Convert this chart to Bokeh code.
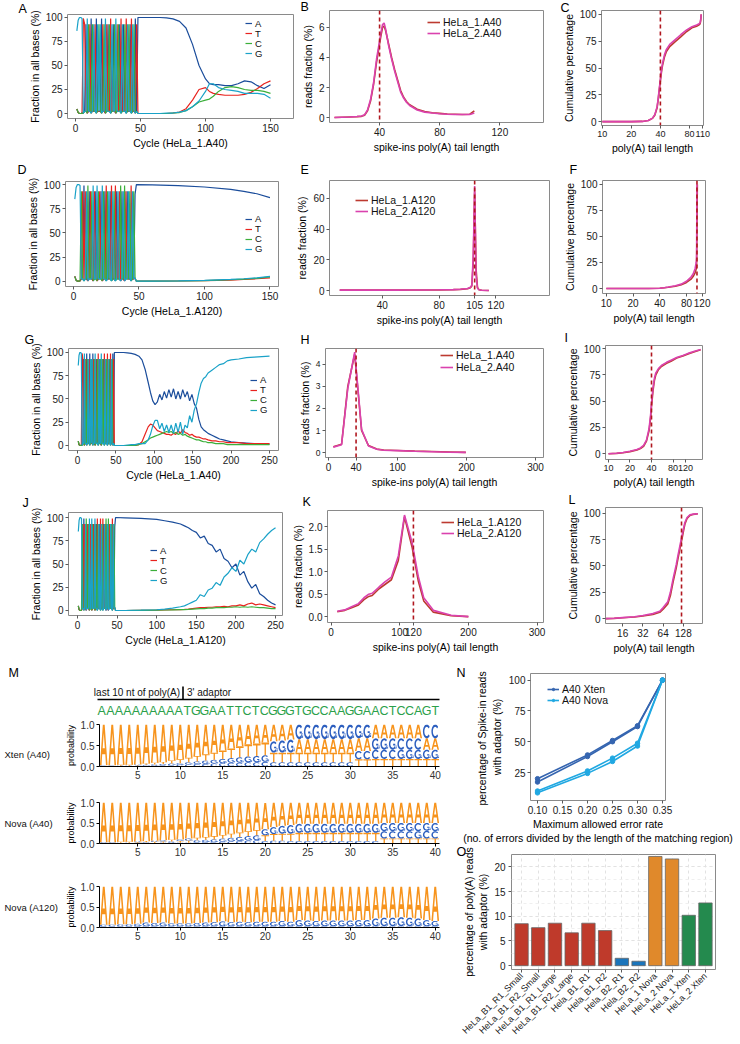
import math
import numpy as np
from bokeh.plotting import figure
from bokeh.models import (Range1d, FixedTicker, SingleIntervalTicker, Span, Legend,
                          LegendItem, NumeralTickFormatter, FactorRange)
from bokeh.layouts import row, column
from bokeh.embed import file_html
from bokeh.resources import INLINE
from bokeh.core.properties import value

FONT = "Liberation Sans"

# ======================= DATA =======================
BASES = ["A", "T", "C", "G"]

# cycles 1..47: dominant base per cycle and its fraction (%)
dom_A40 = "GGGGGTTAGCTACGTAGCGATCGTACTGACGTCATGACTGCATGCAT"
peak_A40 = [86, 97, 100, 100, 99, 99, 93, 93, 99, 93, 93, 99, 93, 93, 93, 99, 93, 93, 93, 99,
            93, 93, 99, 93, 93, 93, 99, 93, 93, 93, 99, 93, 93, 93, 99, 93, 93, 93, 99, 93,
            93, 93, 99, 93, 93, 99, 93]
dom_A120 = "GGGGGCTATGCATCGTAGCTAGCATCGATGCTAGTCAGCTAGCTGCA"
peak_A120 = [85, 97, 100, 100, 99, 93, 93, 99, 93, 93, 99, 93, 93, 93, 99, 93, 93, 99, 93, 93,
             93, 99, 93, 93, 99, 93, 93, 93, 99, 93, 93, 99, 93, 93, 93, 99, 93, 93, 99, 93,
             93, 93, 93, 99, 93, 93, 90]

# Panel A (HeLa_1.A40, 150 cycles) after cycle 47
a_cyc = [48, 55, 60, 65, 70, 75, 80, 85, 90, 95, 100, 103, 106, 110, 115, 120, 125, 130, 135, 140, 145, 150]
a_A = [100, 100, 100, 100, 99.5, 98.5, 96, 89, 72, 50, 36, 31, 30, 30, 29, 29, 31, 34, 33, 29, 26, 30]
a_T = [0, 0, 0, 0, 0, 0.5, 1.5, 5, 14, 25, 27, 23, 21, 20, 19, 19, 19, 20, 22, 26, 31, 34]
a_C = [0, 0, 0, 0, 0, 0.5, 1, 3, 7, 12, 14, 15, 18, 23, 27, 28, 27, 25, 24, 24, 23, 21]
a_G = [0, 0, 0, 0, 0.5, 0.5, 1.5, 3, 7, 13, 23, 31, 31, 27, 25, 24, 23, 21, 21, 21, 20, 16]

# Panel D (HeLa_1.A120, 150 cycles)
d_cyc = [48, 60, 80, 100, 120, 130, 140, 150]
d_A = [100, 99.7, 99, 97.5, 95, 93, 90.5, 86.5]
d_T = [0, 0, 0.2, 0.5, 1.2, 1.8, 2.5, 3.5]
d_C = [0, 0, 0.2, 0.6, 1.5, 2.2, 3.0, 4.5]
d_G = [0, 0, 0.3, 0.8, 1.8, 2.5, 3.5, 5]

# Panel G (HeLa_1.A40, 250 cycles)
g_cyc = [48, 55, 60, 65, 70, 75, 80, 84, 88, 92, 95, 98, 101, 104, 107, 110, 113, 116, 119, 122,
         125, 128, 131, 134, 137, 140, 143, 146, 149, 152, 155, 158, 161, 164, 167, 170, 175, 180,
         185, 190, 195, 200, 210, 220, 230, 240, 250]
g_A = [100, 100, 100, 99.5, 99, 98, 96, 92, 82, 68, 57, 48, 44, 47, 55, 49, 58, 51, 60, 52,
       61, 50, 58, 50, 60, 52, 58, 48, 55, 45, 40, 28, 20, 17, 15, 13, 11, 9, 7, 6, 5, 4, 3, 2.5, 2, 1.5, 1.5]
g_T = [0, 0, 0, 0, 0, 0, 1, 4, 12, 20, 23, 22, 19, 16, 15, 14, 13, 12, 12, 11,
       13, 12, 16, 13, 17, 14, 13, 11, 12, 10, 9, 9, 8, 7, 7, 6, 5, 5, 4, 4, 3, 3, 3, 2, 2, 2, 2]
g_C = [0, 0, 0, 0, 0, 0, 1, 2, 4, 6, 8, 9, 10, 11, 12, 13, 14, 15, 14, 15,
       13, 14, 12, 13, 11, 12, 10, 9, 8, 7, 6, 6, 5, 4, 4, 3, 3, 2, 2, 2, 1, 1, 1, 1, 1, 1, 1]
g_G = [0, 0, 0, 0.5, 1, 1, 2, 2, 2, 6, 12, 21, 27, 27, 18, 24, 15, 22, 14, 22,
       13, 24, 14, 25, 12, 22, 19, 32, 25, 38, 45, 57, 67, 72, 74, 78, 81, 84, 87, 88, 91, 92, 93, 94.5, 95, 95.5, 96]

# Panel J (HeLa_1.A120, 250 cycles)
j_cyc = [48, 60, 80, 100, 110, 120, 130, 135, 140, 145, 150, 155, 160, 165, 170, 175, 180, 185, 190, 195,
         200, 205, 210, 215, 220, 225, 230, 235, 240, 245, 250]
j_A = [100, 99.7, 99, 98, 96.5, 95, 93, 91, 89, 86, 84, 78, 80, 72, 70, 63, 66, 56, 53, 46,
       50, 38, 42, 31, 24, 28, 18, 15, 11, 8, 6]
j_T = [0, 0, 0.2, 0.4, 0.6, 0.8, 1, 1.2, 1.5, 2, 2.5, 3, 3, 3.5, 3.5, 4, 4, 4.5, 4, 5,
       5, 6, 5, 7, 8, 6, 7, 6, 5, 4, 3]
j_C = [0, 0, 0.2, 0.4, 0.5, 0.7, 1, 1, 1.2, 1.5, 1.8, 2, 2, 2.5, 2.5, 3, 3, 3, 3.5, 3.5,
       4, 3.5, 4, 3.5, 4, 3.5, 3, 3, 2.5, 2, 2]
j_G = [0, 0, 0.3, 0.8, 1.5, 2.5, 4, 5, 7, 9, 11, 17, 15, 22, 24, 30, 27, 36, 40, 46,
       42, 54, 50, 60, 66, 63, 73, 77, 82, 86, 89]

# Spike-in read fractions / cumulative percentages
b_len = [10, 15, 20, 25, 28, 30, 32, 34, 36, 38, 40, 41, 42, 43, 44, 46, 48, 50, 52, 54,
         56, 58, 60, 65, 70, 75, 80, 85, 90, 95, 100, 103]
b_rep1 = [0, 0.02, 0.04, 0.06, 0.08, 0.15, 0.45, 1.1, 2.2, 3.7, 4.9, 5.5, 6.0, 6.1, 5.8, 4.9, 4.0, 3.2, 2.5, 1.8,
          1.35, 1.05, 0.85, 0.55, 0.4, 0.32, 0.28, 0.24, 0.22, 0.2, 0.22, 0.45]
b_rep2 = [0, 0.02, 0.04, 0.07, 0.1, 0.18, 0.5, 1.2, 2.3, 3.9, 5.1, 5.7, 6.2, 6.3, 5.9, 4.8, 3.9, 3.1, 2.4, 1.7,
          1.3, 1.0, 0.8, 0.5, 0.36, 0.3, 0.25, 0.22, 0.2, 0.2, 0.2, 0.3]
b_target = 40

c_len = [10, 15, 20, 26, 30, 33, 35, 37, 38, 39, 40, 41, 42, 44, 46, 50, 57, 65, 75, 85, 95, 100, 103, 104, 105, 106]
c_rep1 = [0, 0, 0, 0.2, 1, 3, 6, 13, 21, 30, 38, 46, 52, 60, 65, 70, 74.5, 79, 84, 87.5, 89, 90, 91, 92.5, 95, 100]
c_rep2 = [0, 0, 0, 0.2, 1, 3, 6.5, 14, 22, 31, 40, 48, 54, 62, 67, 72, 76.5, 81, 85.5, 88.5, 90, 91, 92, 93.5, 96, 100]
c_target = 40

e_len = [10, 20, 30, 40, 50, 60, 70, 80, 90, 95, 100, 102, 103, 104, 105, 106, 107, 108, 110, 115]
e_rep1 = [0.3, 0.3, 0.3, 0.3, 0.3, 0.35, 0.4, 0.45, 0.6, 0.8, 1.2, 1.8, 3, 18, 64, 14, 2, 0.6, 0.2, 0.05]
e_rep2 = [0.3, 0.3, 0.3, 0.3, 0.3, 0.35, 0.4, 0.5, 0.65, 0.9, 1.4, 2.2, 3.5, 22, 68, 10, 1.5, 0.5, 0.2, 0.05]
e_target = 105

f_len = [10, 20, 30, 40, 45, 50, 60, 70, 80, 90, 95, 100, 103, 104, 105, 106]
f_rep1 = [0, 0, 0, 0.3, 0.7, 1.2, 2.2, 3.6, 5.8, 9, 11.5, 15, 19, 22, 60, 100]
f_rep2 = [0, 0, 0, 0.3, 0.8, 1.4, 2.6, 4.2, 7, 11, 14, 19, 25, 30, 100, 100]
f_target = 105

h_len = [7, 19, 28, 38, 48, 58, 70, 80, 100, 125, 150, 175, 199]
h_rep1 = [0.27, 0.38, 3.0, 4.45, 1.0, 0.32, 0.16, 0.12, 0.1, 0.07, 0.05, 0.03, 0.01]
h_rep2 = [0.25, 0.36, 2.9, 4.55, 1.05, 0.3, 0.15, 0.11, 0.09, 0.06, 0.04, 0.02, 0.01]
h_target = 40

i_len = [10, 13, 16, 20, 25, 28, 31, 34, 37, 39, 40, 42, 44, 46, 50, 55, 65, 75, 90, 110, 130, 160, 195]
i_rep1 = [0, 0.3, 1, 2, 3.5, 5, 7, 12, 22, 35, 45, 60, 70, 75, 80, 83, 86, 88, 91, 93, 95, 97, 99]
i_rep2 = [0, 0.4, 1.2, 2.3, 4, 5.5, 8, 13, 24, 38, 48, 63, 72, 77, 81, 84, 87, 89, 91.5, 93.5, 95.5, 97.5, 99.2]
i_target = 40

k_len = [9, 20, 30, 40, 48, 55, 60, 70, 79, 88, 98, 107, 118, 127, 135, 149, 175, 200]
k_rep1 = [0.11, 0.14, 0.2, 0.26, 0.38, 0.45, 0.47, 0.62, 0.72, 0.82, 1.25, 2.22, 1.55, 0.8, 0.35, 0.1, 0.02, 0.0]
k_rep2 = [0.12, 0.15, 0.22, 0.29, 0.42, 0.5, 0.52, 0.66, 0.78, 0.88, 1.35, 2.26, 1.65, 0.9, 0.42, 0.14, 0.03, 0.0]
k_target = 120

l_len = [9, 12, 16, 24, 32, 45, 57, 64, 75, 82, 90, 100, 107, 115, 123, 130, 135, 145, 160, 180, 210]
l_rep1 = [0, 0.3, 0.8, 1.5, 2.5, 4, 6, 9, 14, 22, 35, 48, 58, 68, 77, 85, 90, 95, 98, 99, 99.5]
l_rep2 = [0, 0.4, 1.0, 1.8, 3, 4.8, 7, 10.5, 16, 25, 38, 51, 61, 71, 80, 87, 91.5, 96, 98.5, 99.2, 99.6]
l_target = 120

# Sequence logos (probability per position 1..40)
logo_pos = list(range(1, 41))
adaptor_seq = "AAAAAAAAAATGGAATTCTCGGGTGCCAAGGAACTCCAGT"
logo_rows = ["Xten (A40)", "Nova (A40)", "Nova (A120)"]
xten_A = [.97, .97, .96, .96, .95, .93, .91, .89, .86, .83, .79, .75, .71, .67, .62, .57, .52, .47, .45, .43,
          .40, .38, .36, .32, .32, .32, .32, .32, .32, .32, .30, .30, .33, .33, .33, .33, .33, .33, .27, .27]
xten_T = [.01, .01, .02, .02, .02, .03, .04, .05, .07, .09, .11, .13, .15, .17, .20, .23, .26, .29, .30, .30,
          .23, .23, .23, .23, .23, .23, .23, .23, .23, .23, .17, .17, .18, .18, .18, .18, .18, .18, .18, .18]
xten_G = [.01, .01, .01, .01, .02, .02, .03, .03, .04, .04, .05, .06, .08, .09, .10, .11, .13, .14, .15, .16,
          .27, .29, .31, .35, .35, .35, .35, .35, .35, .35, .33, .33, .27, .27, .27, .22, .22, .22, .22, .22]
xten_C = [.01, .01, .01, .01, .01, .02, .02, .03, .03, .04, .05, .06, .06, .07, .08, .09, .09, .10, .10, .11,
          .10, .10, .10, .10, .10, .10, .10, .10, .10, .10, .20, .20, .22, .22, .22, .27, .27, .27, .33, .33]

nova40_A = [.97, .97, .96, .96, .95, .94, .93, .92, .91, .90, .88, .86, .84, .82, .79, .76, .73, .70, .67, .64,
            .60, .57, .55, .52, .52, .52, .52, .52, .52, .52, .52, .52, .52, .50, .50, .50, .50, .50, .50, .50]
nova40_T = [.01, .01, .02, .02, .02, .03, .03, .03, .04, .04, .05, .06, .07, .08, .09, .10, .11, .12, .13, .14,
            .16, .17, .18, .20, .20, .20, .20, .20, .20, .20, .20, .20, .20, .12, .12, .12, .12, .12, .12, .12]
nova40_G = [.01, .01, .01, .01, .02, .02, .03, .03, .03, .04, .05, .05, .06, .07, .08, .09, .10, .11, .12, .15,
            .17, .19, .21, .22, .22, .22, .22, .22, .22, .22, .22, .22, .22, .20, .20, .20, .20, .18, .19, .20]
nova40_C = [.01, .01, .01, .01, .01, .01, .01, .02, .02, .02, .02, .03, .03, .03, .04, .05, .06, .07, .08, .06,
            .07, .07, .06, .06, .06, .06, .06, .06, .06, .06, .06, .06, .06, .18, .18, .18, .18, .20, .19, .18]

nova120_A = [.93, .93, .92, .92, .91, .88, .89, .88, .90, .90, .90, .89, .88, .87, .85, .87, .86, .87, .86, .86,
             .86, .84, .86, .82, .83, .84, .83, .83, .83, .83, .82, .82, .78, .76, .76, .75, .76, .78, .82, .84]
nova120_G = [.04, .04, .05, .05, .06, .09, .08, .09, .07, .07, .07, .08, .09, .10, .12, .10, .11, .10, .11, .11,
             .11, .13, .11, .15, .14, .13, .14, .14, .14, .14, .15, .15, .19, .21, .21, .22, .21, .19, .15, .13]
nova120_C = [.02, .02, .02, .02, .02, .02, .02, .02, .02, .02, .02, .02, .02, .02, .02, .02, .02, .02, .02, .02,
             .02, .02, .02, .02, .02, .02, .02, .02, .02, .02, .02, .02, .02, .02, .02, .02, .02, .02, .02, .02]
nova120_T = [.01, .01, .01, .01, .01, .01, .01, .01, .01, .01, .01, .01, .01, .01, .01, .01, .01, .01, .01, .01,
             .01, .01, .01, .01, .01, .01, .01, .01, .01, .01, .01, .01, .01, .01, .01, .01, .01, .01, .01, .01]

# Panel N
n_err = [0.10, 0.20, 0.25, 0.30, 0.35]
n_ticks = [0.10, 0.15, 0.20, 0.25, 0.30, 0.35]
n_xten_r1 = [17.3, 38.0, 50.0, 62.3, 100]
n_xten_r2 = [20.0, 39.3, 51.0, 63.0, 100]
n_nova_r1 = [8.5, 24.3, 34.0, 46.5, 100]
n_nova_r2 = [10.0, 26.3, 36.7, 48.8, 100]

# Panel O
o_names = ["HeLa_B1_R1_Small", "HeLa_B1_R2_Small", "HeLa_B1_R1_Large", "HeLa_B1_R2_Large",
           "Hela_B1_R1", "Hela_B1_R2", "Hela_B2_R1", "Hela_B2_R2",
           "HeLa_1 Nova", "HeLa_2 Nova", "HeLa_1 Xten", "HeLa_2 Xten"]
o_vals = [8.5, 7.7, 8.6, 6.65, 8.6, 7.1, 1.5, 0.9, 22.1, 21.6, 10.2, 12.7]
o_group = ["B1", "B1", "B1", "B1", "B1", "B1", "B2", "B2", "Nova", "Nova", "Xten", "Xten"]

# ======================= STYLE =======================
BASE_COL = {"A": "#1B4D9B", "T": "#E8231E", "C": "#3BAF3A", "G": "#1AA2C8"}
REP_COL = ["#BD3A30", "#DA42AE"]
DASH_COL = "#B0171F"
LOGO_COL = {"A": "#F7941D", "T": "#F7941D", "G": "#2D5FBF", "C": "#2D5FBF"}
O_COL = {"B1": "#BF3A2B", "B2": "#1B75BB", "Nova": "#E0892B", "Xten": "#248A4E"}
N_COL = ["#3565B0", "#20A8E2"]


def style_axis(ax, tick_size="10px", label_size="10.5px", line_color=None, tick_color="#5a5a5a"):
    ax.axis_line_color = line_color
    ax.major_tick_line_color = tick_color
    ax.major_tick_out = 3
    ax.major_tick_in = 0
    ax.minor_tick_line_color = None
    ax.major_label_text_font = FONT
    ax.major_label_text_font_size = tick_size
    ax.major_label_text_color = "#1a1a1a"
    ax.axis_label_text_font = FONT
    ax.axis_label_text_font_size = label_size
    ax.axis_label_text_font_style = "normal"
    ax.axis_label_text_color = "#000000"
    ax.major_label_standoff = 2
    ax.axis_label_standoff = 2


def set_letter(p, txt, dx, standoff):
    """Panel letter as the plot title, shifted left of the frame."""
    p.title.text = txt
    p.title.align = "left"
    p.title.offset = dx
    p.title.text_font = FONT
    p.title.text_font_size = "12.5px"
    p.title.text_font_style = "normal"
    p.title.text_color = "#000000"
    try:
        p.title.standoff = standoff
    except Exception:
        p.title.standoff = 0


def make_fig(w, h, borders, xr, yr, xlog=False, xticks=None, yticks=None,
             xlabel=None, ylabel=None, xfmt=None, yfmt=None):
    l, r, t, b = borders
    p = figure(width=w, height=h, x_range=Range1d(*xr), y_range=Range1d(*yr),
               x_axis_type=("log" if xlog else "linear"),
               output_backend="svg", toolbar_location=None,
               min_border_left=l, min_border_right=r, min_border_top=t, min_border_bottom=b)
    p.outline_line_color = "#8a8a8a"
    p.outline_line_width = 1
    p.grid.visible = False
    for ax in list(p.xaxis) + list(p.yaxis):
        style_axis(ax)
    if xticks is not None:
        p.xaxis.ticker = FixedTicker(ticks=xticks)
    if yticks is not None:
        p.yaxis.ticker = FixedTicker(ticks=yticks)
    if xfmt:
        p.xaxis.formatter = NumeralTickFormatter(format=xfmt)
    if yfmt:
        p.yaxis.formatter = NumeralTickFormatter(format=yfmt)
    if xlabel:
        p.xaxis.axis_label = xlabel
    if ylabel:
        p.yaxis.axis_label = ylabel
    return p


def add_stack_legend(p, items, vx, vys, font="10.5px", gw=8):
    """One single-entry legend per item, so the row pitch can follow the reference."""
    for it, vy in zip(items, vys):
        p.add_layout(Legend(items=[it], location=(vx, vy), orientation="vertical",
                            label_text_font=FONT, label_text_font_size=font, label_text_color="#111111",
                            glyph_width=gw, glyph_height=6, label_height=6, label_standoff=3,
                            spacing=0, padding=0, margin=0,
                            border_line_color=None, background_fill_alpha=0))


def cycle_fig(w, h, borders, xr, yr, xticks, xlabel, dom, peaks, cyc2, s2, leg_x, leg_ys, letter):
    p = make_fig(w, h, borders, xr, yr, xticks=xticks, yticks=[0, 25, 50, 75, 100],
                 xlabel=xlabel, ylabel="Fraction in all bases (%)")
    cyc1 = list(range(1, len(dom) + 1))
    items = []
    for bs in BASES:
        y1 = [pk if d == bs else (100 - pk) / 3 for d, pk in zip(dom, peaks)]
        r = p.line(cyc1 + cyc2, y1 + s2[bs], line_color=BASE_COL[bs], line_width=1.2)
        items.append(LegendItem(label=bs, renderers=[r]))
    add_stack_legend(p, items, leg_x, leg_ys, font="9.5px", gw=7)
    set_letter(p, *letter)
    return p


def spike_fig(w, h, borders, xr, yr, xticks, yticks, x, y1, y2, target, labels, leg_x, leg_ys, letter,
              yfmt=None, ytick_size="10px"):
    p = make_fig(w, h, borders, xr, yr, xticks=xticks, yticks=yticks,
                 xlabel="spike-ins poly(A) tail length", ylabel="reads fraction (%)", yfmt=yfmt)
    p.yaxis.major_label_text_font_size = ytick_size
    r1 = p.line(x, y1, line_color=REP_COL[0], line_width=1.6)
    r2 = p.line(x, y2, line_color=REP_COL[1], line_width=1.6)
    p.add_layout(Span(location=target, dimension="height", line_color=DASH_COL,
                      line_dash="4 3", line_width=1.6))
    add_stack_legend(p, [LegendItem(label=labels[0], renderers=[r1]),
                         LegendItem(label=labels[1], renderers=[r2])], leg_x, leg_ys, font="10.5px", gw=13)
    set_letter(p, *letter)
    return p


def cum_fig(w, h, borders, xr, yr, xticks, x, y1, y2, target, letter, xtick_size="10px"):
    p = make_fig(w, h, borders, xr, yr, xlog=True, xticks=xticks, yticks=[0, 25, 50, 75, 100],
                 xlabel="poly(A) tail length", ylabel="Cumulative percentage", xfmt="0")
    p.xaxis.major_label_text_font_size = xtick_size
    p.line(x, y1, line_color=REP_COL[0], line_width=1.6)
    p.line(x, y2, line_color=REP_COL[1], line_width=1.6)
    p.add_layout(Span(location=target, dimension="height", line_color=DASH_COL,
                      line_dash="4 3", line_width=1.6))
    set_letter(p, *letter)
    return p


# ---------------- rows 1-4 ----------------
pA = cycle_fig(296, 156, (67, 3, 14, 38), (-6.2, 167.7), (-5.2, 103.1), [0, 50, 100, 150],
               "Cycle (HeLa_1.A40)", dom_A40, peak_A40, a_cyc,
               {"A": a_A, "T": a_T, "C": a_C, "G": a_G}, 178, [89.5, 79.5, 69.5, 59.5], ("A", -49, -2.4))
pB = spike_fig(260, 156, (33, 13, 10, 34), (6.7, 149), (-0.33, 7.13), [40, 80, 120], [0, 2, 4, 6],
               b_len, b_rep1, b_rep2, b_target, ["HeLa_1.A40", "HeLa_2.A40"], 98, [94, 83], ("B", -29, -6.4))
pC = cum_fig(184, 156, (45, 37, 10, 30), (9.8, 112), (-3.6, 103.6), [10, 20, 40, 80, 110],
             c_len, c_rep1, c_rep2, c_target, ("C", -41, -8.3), xtick_size="9px")

pD = cycle_fig(290, 172, (65, 12, 25, 42), (-6.1, 156.5), (-5.5, 103.2), [0, 50, 100, 150],
               "Cycle (HeLa_1.A120)", dom_A120, peak_A120, d_cyc,
               {"A": d_A, "T": d_T, "C": d_C, "G": d_G}, 180, [62, 52, 42, 32], ("D", -48, 8.6))
pE = spike_fig(270, 172, (39, 11, 24, 32), (2.8, 157.7), (-3.2, 71.6), [40, 80, 105, 120], [0, 20, 40, 60],
               e_len, e_rep1, e_rep2, e_target, ["HeLa_1.A120", "HeLa_2.A120"], 26, [89.5, 78], ("E", -29, 7.6))
pF = cum_fig(180, 172, (38, 35, 24, 35), (9.06, 131), (-4.8, 103.8), [10, 20, 40, 80, 120],
             f_len, f_rep1, f_rep2, f_target, ("F", -33, 7.6))

pG = cycle_fig(288, 162, (68, 10, 20, 40), (-11.7, 261.7), (-5.4, 104.3), [0, 50, 100, 150, 200, 250],
               "Cycle (HeLa_1.A40)", dom_A40, peak_A40, g_cyc,
               {"A": g_A, "T": g_T, "C": g_C, "G": g_G}, 182, [65, 55, 45, 35], ("G", -44, 3.6))
pH = spike_fig(272, 162, (37, 17, 20, 31), (-4.3, 311.6), (-0.22, 4.71), [0, 40, 100, 200, 300], [0, 1, 2, 3, 4],
               h_len, h_rep1, h_rep2, h_target, ["HeLa_1.A40", "HeLa_2.A40"], 115, [96, 84.5], ("H", -25, 3.6),
               ytick_size="8.5px")
pI = cum_fig(180, 162, (45, 38, 17, 31), (9.08, 207), (-5.5, 103), [10, 20, 40, 80, 120],
             i_len, i_rep1, i_rep2, i_target, ("I", -41, 0.6), xtick_size="9px")

pJ = cycle_fig(288, 166, (68, 6, 22, 41), (-11.4, 258.8), (-5.4, 105.4), [0, 50, 100, 150, 200, 250],
               "Cycle (HeLa_1.A120)", dom_A120, peak_A120, j_cyc,
               {"A": j_A, "T": j_T, "C": j_C, "G": j_G}, 82, [59.5, 49.5, 39.5, 29.5], ("J", -46, 5.6))
pK = spike_fig(272, 166, (38, 17, 20, 34), (-5.1, 309.4), (-0.13, 2.36), [0, 100, 120, 200, 300],
               [0, 0.5, 1.0, 1.5, 2.0], k_len, k_rep1, k_rep2, k_target, ["HeLa_1.A120", "HeLa_2.A120"],
               114, [94.5, 83], ("K", -25, 3.6), yfmt="0.0")
pL = cum_fig(180, 166, (45, 38, 17, 30), (8.9, 246), (-4.6, 105.5), [16, 32, 64, 128],
             l_len, l_rep1, l_rep2, l_target, ("L", -37, 0.6))

# ---------------- M: sequence logos ----------------
A_SHAPE = [[([0, 0.38, 0.62, 1, 0.79, 0.70, 0.30, 0.21], [0, 1, 1, 0, 0, 0.27, 0.27, 0]),
            ([0.36, 0.5, 0.64], [0.42, 0.79, 0.42])]]
T_SHAPE = [[([0, 1, 1, 0.59, 0.59, 0.41, 0.41, 0], [1, 1, 0.84, 0.84, 0, 0, 0.84, 0.84])]]


def ring(a0, a1, n=28):
    t = np.radians(np.linspace(a0, a1, n))
    xo = 0.5 + 0.5 * np.cos(t)
    yo = 0.5 + 0.5 * np.sin(t)
    xi = 0.5 + 0.31 * np.cos(t[::-1])
    yi = 0.5 + 0.33 * np.sin(t[::-1])
    return (list(xo) + list(xi), list(yo) + list(yi))


C_SHAPE = [[ring(40, 320)]]
G_SHAPE = [[ring(45, 340)],
           [([0.55, 1.0, 1.0, 0.55], [0.38, 0.38, 0.52, 0.52])],
           [([0.83, 1.0, 1.0, 0.83], [0.10, 0.10, 0.52, 0.52])]]
SHAPES = {"A": A_SHAPE, "T": T_SHAPE, "C": C_SHAPE, "G": G_SHAPE}

MW = 455            # M column width
LABW = 62           # strip holding the row labels
LW, LL, LR = MW - LABW, 35, 16   # logo figure width and borders (frame at x=97..439)
SLOT = (LW - LL - LR) / 40.0


def logo_fig(h, t, b, probs):
    p = figure(width=LW, height=h, x_range=Range1d(0.5, 40.5), y_range=Range1d(0, 1.0),
               output_backend="svg", toolbar_location=None,
               min_border_left=LL, min_border_right=LR, min_border_top=t, min_border_bottom=b)
    p.outline_line_color = None
    p.grid.visible = False
    for ax in list(p.xaxis) + list(p.yaxis):
        style_axis(ax, tick_size="10px", label_size="9px", line_color="#000000", tick_color="#000000")
        ax.major_label_text_color = "#333333"
    p.xaxis.ticker = FixedTicker(ticks=[5, 10, 15, 20, 25, 30, 35, 40])
    p.yaxis.ticker = FixedTicker(ticks=[0, 0.5, 1.0])
    p.yaxis.formatter = NumeralTickFormatter(format="0.0")
    p.yaxis.axis_label = "probability"
    p.xaxis.major_label_standoff = 1
    xs, ys, cols = [], [], []
    for i, pos in enumerate(logo_pos):
        stack = sorted(((probs[bs][i], bs) for bs in BASES), key=lambda z: z[0])
        cum = 0.0
        for v, bs in stack:
            if v <= 0:
                continue
            x0, x1 = pos - 0.45, pos + 0.45
            y0, y1 = cum, cum + v
            xs.append([[[x0 + (x1 - x0) * u for u in rx] for (rx, ry) in poly] for poly in SHAPES[bs]])
            ys.append([[[y0 + (y1 - y0) * u for u in ry] for (rx, ry) in poly] for poly in SHAPES[bs]])
            cols.append(LOGO_COL[bs])
            cum = y1
    p.multi_polygons(xs=xs, ys=ys, fill_color=cols, line_color=None)
    return p


# header: frame covers the whole canvas, x in logo-position units
hx0 = 0.5 - (LABW + LL) / SLOT
hx1 = 0.5 + (MW - LABW - LL) / SLOT
pMh = figure(width=MW, height=60, x_range=Range1d(hx0, hx1), y_range=Range1d(0, 60),
             output_backend="svg", toolbar_location=None, x_axis_location=None, y_axis_location=None,
             min_border_left=0, min_border_right=0, min_border_top=0, min_border_bottom=0)
pMh.outline_line_color = None
pMh.grid.visible = False
pMh.segment(x0=[logo_pos[0] - 0.5], y0=[17], x1=[logo_pos[-1] + 0.5], y1=[17], line_color="#000000", line_width=1.4)
pMh.segment(x0=[10.5], y0=[17], x1=[10.5], y1=[30], line_color="#000000", line_width=1.6)
pMh.text(x=[10.5], y=[24], text=["last 10 nt of poly(A)"], text_align="right", text_baseline="middle",
         x_offset=-3, text_font=value(FONT), text_font_size="10px", text_color="#111111")
pMh.text(x=[10.5], y=[24], text=["3' adaptor"], text_align="left", text_baseline="middle",
         x_offset=4, text_font=value(FONT), text_font_size="10px", text_color="#111111")
pMh.text(x=logo_pos, y=[6] * len(logo_pos), text=list(adaptor_seq), text_align="center",
         text_baseline="middle", text_font=value(FONT), text_font_size="12.5px", text_color="#2BA04A")
pMh.text(x=[hx0], y=[44], text=["M"], text_align="left", text_baseline="middle", x_offset=8,
         text_font=value(FONT), text_font_size="12.5px", text_color="#000000")

logo_h = [(66, 8, 16), (77, 20, 16), (86, 27, 18)]
pM1 = logo_fig(*logo_h[0], {"A": xten_A, "T": xten_T, "G": xten_G, "C": xten_C})
pM2 = logo_fig(*logo_h[1], {"A": nova40_A, "T": nova40_T, "G": nova40_G, "C": nova40_C})
pM3 = logo_fig(*logo_h[2], {"A": nova120_A, "T": nova120_T, "G": nova120_G, "C": nova120_C})

# row-label strip (frame covers the canvas; y in pixels from the strip bottom)
lab_h = sum(hh for hh, _, _ in logo_h)
pLab = figure(width=LABW, height=lab_h, x_range=Range1d(0, LABW), y_range=Range1d(0, lab_h),
              output_backend="svg", toolbar_location=None, x_axis_location=None, y_axis_location=None,
              min_border_left=0, min_border_right=0, min_border_top=0, min_border_bottom=0)
pLab.outline_line_color = None
pLab.grid.visible = False
lab_y = [lab_h - 38, lab_h - 107, lab_h - 191]
pLab.text(x=[4, 4, 4], y=lab_y, text=logo_rows, text_align="left", text_baseline="middle",
          text_font=value(FONT), text_font_size="9.5px", text_color="#111111")

# ---------------- N ----------------
pN = make_fig(285, 190, (75, 75, 17, 40), (0.086, 0.356), (2.3, 105.4),
              xticks=n_ticks, yticks=[25, 50, 75, 100], xfmt="0.00",
              xlabel="Maximum allowed error rate\n(no. of errors divided by the length of the matching region)",
              ylabel="percentage of Spike-in  reads\nwith adaptor (%)")
pN.xaxis.axis_label_standoff = 1
pN.yaxis.axis_label_standoff = 3
n_items = []
for lab, reps, col in (("A40 Xten", (n_xten_r1, n_xten_r2), N_COL[0]),
                       ("A40 Nova", (n_nova_r1, n_nova_r2), N_COL[1])):
    rs = []
    for ys_ in reps:
        rl = pN.line(n_err, ys_, line_color=col, line_width=1.6)
        rc = pN.scatter(n_err, ys_, size=4.5, color=col)
        rs += [rl, rc]
    n_items.append(LegendItem(label=lab, renderers=rs[:2]))
add_stack_legend(pN, n_items, 17, [105.5, 94], font="10.5px", gw=12)
set_letter(pN, "N", -74, -12.3)

# ---------------- O ----------------
pO = figure(width=285, height=196,
            x_range=FactorRange(factors=o_names, range_padding=0.1, range_padding_units="absolute"),
            y_range=Range1d(-0.77, 22.5), output_backend="svg", toolbar_location=None,
            min_border_left=56, min_border_right=25, min_border_top=8, min_border_bottom=67)
pO.outline_line_color = "#8a8a8a"
for ax in list(pO.xaxis) + list(pO.yaxis):
    style_axis(ax)
pO.vbar(x=o_names, top=o_vals, width=0.8, bottom=0,
        fill_color=[O_COL[g] for g in o_group], line_color="#666666", line_width=0.8)
pO.yaxis.ticker = SingleIntervalTicker(interval=5, num_minor_ticks=2)
pO.yaxis.axis_label = "percentage of poly(A) reads\nwith adaptor (%)"
pO.xaxis.major_label_orientation = math.pi / 4
pO.xaxis.major_label_text_font_size = "9px"
pO.xgrid.grid_line_color = "#e2e2e2"
pO.xgrid.grid_line_dash = "3 3"
pO.ygrid.grid_line_color = "#e2e2e2"
pO.ygrid.grid_line_dash = "3 3"
pO.ygrid.minor_grid_line_color = "#efefef"
pO.ygrid.minor_grid_line_dash = "3 3"
set_letter(pO, "O", -55, -8.4)


def solo(p):
    # own container, so that neighbouring frames are not aligned to each other
    return column(p)


layout = column(
    row(solo(pA), solo(pB), solo(pC)),
    row(solo(pD), solo(pE), solo(pF)),
    row(solo(pG), solo(pH), solo(pI)),
    row(solo(pJ), solo(pK), solo(pL)),
    row(column(pMh, row(pLab, column(pM1, pM2, pM3))), column(solo(pN), solo(pO))),
)

open("out.html", "w").write(file_html(layout, INLINE, title="poly(A) spike-ins"))
